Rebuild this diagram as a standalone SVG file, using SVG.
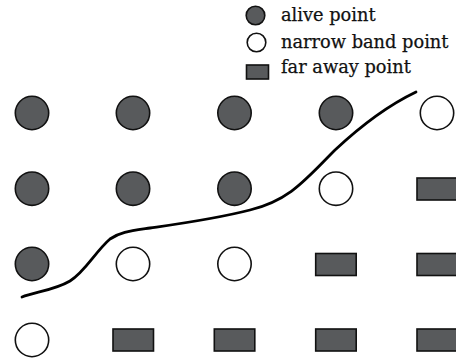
<svg xmlns="http://www.w3.org/2000/svg" width="456" height="359" viewBox="0 0 456 359">
<style>
.alive{fill:#585a5c;stroke:#111;stroke-width:1.6}
.band{fill:#fff;stroke:#111;stroke-width:1.6}
.far{fill:#585a5c;stroke:#111;stroke-width:1.6}
.lbl{font-family:"DejaVu Serif","Liberation Serif",serif;font-size:17.8px;fill:#111;stroke:#111;stroke-width:0.25}
.curve{fill:none;stroke:#000;stroke-width:2.8;stroke-linecap:round}
</style>
<rect width="456" height="359" fill="#fff"/>
<g id="legend">
<circle class="alive" cx="255.5" cy="15.5" r="9.3"/>
<text class="lbl" x="281" y="21">alive point</text>
<circle class="band" cx="256.5" cy="42.5" r="9.3"/>
<text class="lbl" x="281" y="48">narrow band point</text>
<rect class="far" x="246.5" y="65" width="22" height="14"/>
<text class="lbl" x="281" y="73">far away point</text>
</g>
<g id="n-r1c1"><circle class="alive" cx="32" cy="113" r="16.7"/></g>
<g id="n-r1c2"><circle class="alive" cx="133" cy="113" r="16.7"/></g>
<g id="n-r1c3"><circle class="alive" cx="234.5" cy="113" r="16.7"/></g>
<g id="n-r1c4"><circle class="alive" cx="336" cy="113" r="16.7"/></g>
<g id="n-r1c5"><circle class="band" cx="437" cy="113" r="16.7"/></g>
<g id="n-r2c1"><circle class="alive" cx="32" cy="188.7" r="16.7"/></g>
<g id="n-r2c2"><circle class="alive" cx="133" cy="188.7" r="16.7"/></g>
<g id="n-r2c3"><circle class="alive" cx="234.5" cy="188.7" r="16.7"/></g>
<g id="n-r2c4"><circle class="band" cx="336" cy="188.7" r="16.7"/></g>
<g id="n-r2c5"><rect class="far" x="417" y="178" width="40.5" height="22"/></g>
<g id="n-r3c1"><circle class="alive" cx="32" cy="264" r="16.7"/></g>
<g id="n-r3c2"><circle class="band" cx="133" cy="264" r="16.7"/></g>
<g id="n-r3c3"><circle class="band" cx="234.5" cy="264" r="16.7"/></g>
<g id="n-r3c4"><rect class="far" x="315.7" y="253.5" width="40.5" height="22"/></g>
<g id="n-r3c5"><rect class="far" x="417" y="253.5" width="40.5" height="22"/></g>
<g id="n-r4c1"><circle class="band" cx="32" cy="340" r="16.7"/></g>
<g id="n-r4c2"><rect class="far" x="113" y="329" width="40.5" height="22"/></g>
<g id="n-r4c3"><rect class="far" x="214.3" y="329" width="40.5" height="22"/></g>
<g id="n-r4c4"><rect class="far" x="315.7" y="329" width="40.5" height="22"/></g>
<g id="n-r4c5"><rect class="far" x="417" y="329" width="40.5" height="22"/></g>
<g id="connectors">
<path class="curve" d="M22,297 C35,292 55,290 70,281 C85,272 95,252 110,239 C120,232 130,231 150,228 C185,223 215,219 250,210 C290,200 305,180 335,150 C365,122 395,102 416,92"/>
</g>
</svg>
